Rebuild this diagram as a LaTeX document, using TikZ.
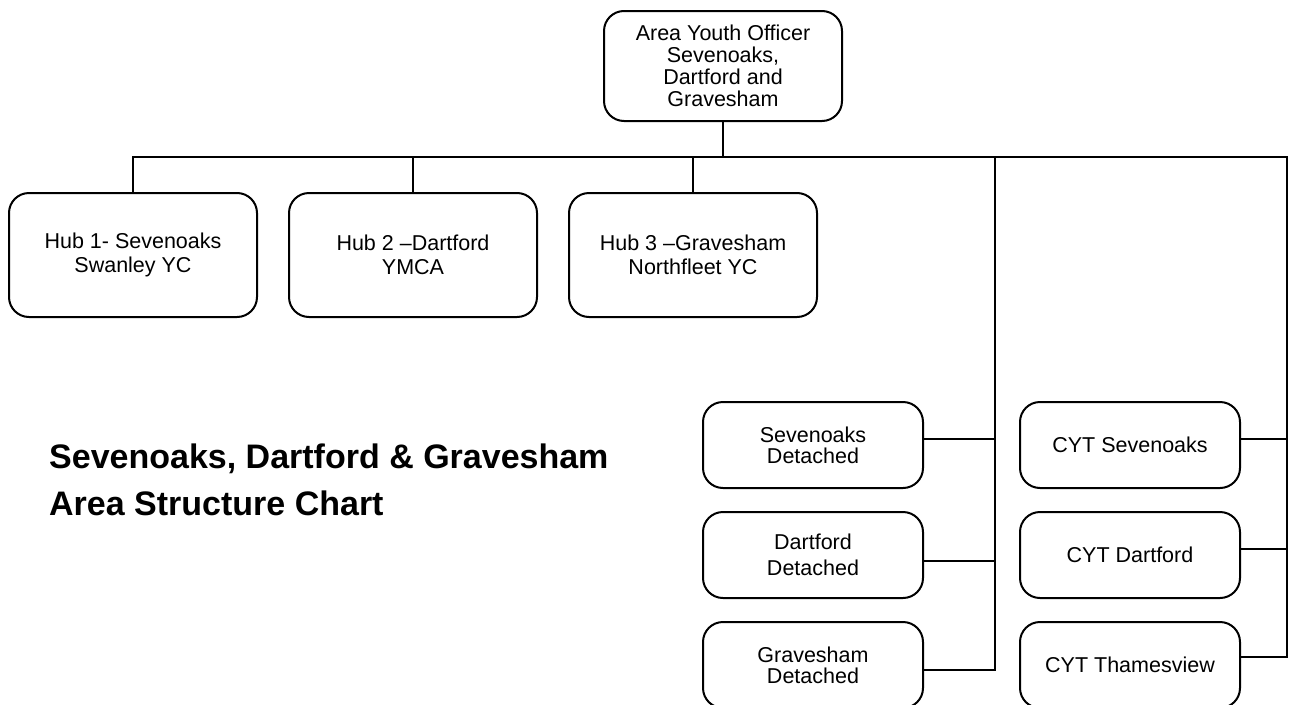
\documentclass[tikz,border=0pt]{standalone}
\usepackage{fontspec}
\setmainfont{Liberation Sans}
\begin{document}
\begin{tikzpicture}[x=1pt,y=-1pt,
  box/.style={draw,line width=2pt,rounded corners=20pt,align=center,inner sep=0pt,
    font=\fontsize{21.5}{24}\selectfont},
  topbox/.style={box,minimum width=238pt,minimum height=110pt,font=\fontsize{21.5}{22}\selectfont},
  hubbox/.style={box,minimum width=248pt,minimum height=124pt},
  smallbox/.style={box,minimum width=220pt,minimum height=86pt},
  conn/.style={line width=2pt,line cap=rect}]
\useasboundingbox (0,0) rectangle (1289,704);
\node[topbox] (top) at (723,66) {Area Youth Officer\\Sevenoaks,\\Dartford and\\Gravesham};
\node[hubbox] (h1) at (133,255) {Hub 1- Sevenoaks\\Swanley YC};
\node[hubbox] (h2) at (413,255) {Hub 2 \textendash Dartford\\YMCA};
\node[hubbox] (h3) at (693,255) {Hub 3 \textendash Gravesham\\Northfleet YC};
\node[smallbox,font=\fontsize{21.5}{21}\selectfont] (d1) at (813,445) {Sevenoaks\\Detached};
\node[smallbox,font=\fontsize{21.5}{26}\selectfont] (d2) at (813,555) {Dartford\\Detached};
\node[smallbox,font=\fontsize{21.5}{21}\selectfont] (d3) at (813,665) {Gravesham\\Detached};
\node[smallbox] (c1) at (1130,445) {CYT Sevenoaks};
\node[smallbox] (c2) at (1130,555) {CYT Dartford};
\node[smallbox] (c3) at (1130,665) {CYT Thamesview};
\node[anchor=west,align=left,font=\fontsize{34}{47}\selectfont\bfseries,inner sep=0pt] (title) at (49,480)
  {Sevenoaks, Dartford \& Gravesham\\Area Structure Chart};
\coordinate (bus) at (723,157);
\coordinate (busM) at (995,157);
\coordinate (busR) at (1287,157);
\draw[conn] (top.south) -- (bus);
\draw[conn] (h1.north) |- (bus) -- (busR);
\draw[conn] (h2.north) -- (h2.north |- bus);
\draw[conn] (h3.north) -- (h3.north |- bus);
\draw[conn] (busM) |- ([yshift=-5pt]d3.east);
\draw[conn] ([yshift=6pt]d1.east) -- ([yshift=6pt]d1.east -| busM);
\draw[conn] ([yshift=-6pt]d2.east) -- ([yshift=-6pt]d2.east -| busM);
\draw[conn] (busR) |- ([yshift=8pt]c3.east);
\draw[conn] ([yshift=6pt]c1.east) -- ([yshift=6pt]c1.east -| busR);
\draw[conn] ([yshift=6pt]c2.east) -- ([yshift=6pt]c2.east -| busR);
\end{tikzpicture}
\end{document}
